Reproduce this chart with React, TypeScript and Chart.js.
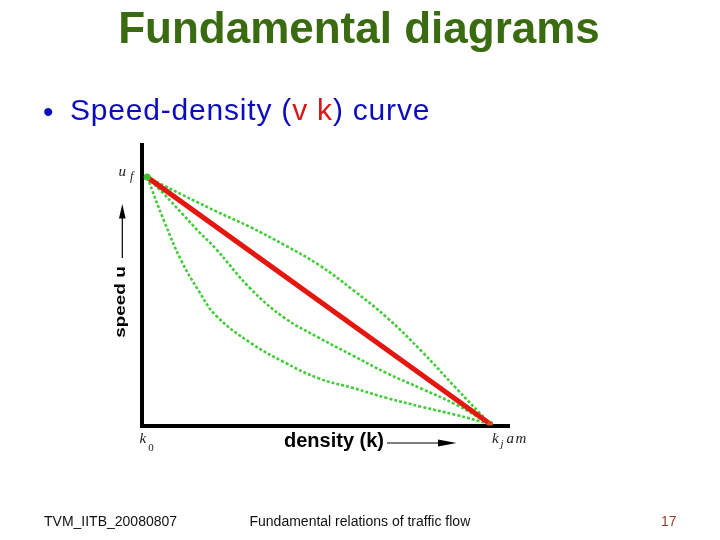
import React, { useEffect, useRef } from "react";
import { Chart, registerables } from "chart.js";

Chart.register(...registerables);

// ---- data (density k in % of k_jam, speed u in % of u_f) ----
const densityPoints = [0, 5, 10, 15, 20, 30, 40, 50, 60, 70, 80, 90, 100];
const upperCurve = [100, 96.5, 93, 89.6, 86.2, 79.8, 72.5, 64.5, 54.3, 43, 29.5, 14.6, 0];
const middleCurve = [100, 93, 85.5, 78, 71, 55, 43, 35, 27.7, 20.5, 14.3, 7.9, 0];
const lowerCurve = [100, 82, 66, 54, 44, 33, 25, 18.5, 14.6, 10.5, 7, 3.7, 0];
const linearDensity = [0, 100];
const linearSpeed = [100, 0];
const xAxisRange = [-1.5, 105.5];
const yAxisRange = [-0.6, 113];

const titleText = "Fundamental diagrams";
const footerLeft = "TVM_IITB_20080807";
const footerCenter = "Fundamental relations of traffic flow";
const footerPage = "17";

const SANS = '"Liberation Sans", Arial, Helvetica, sans-serif';
const SERIF = '"Liberation Serif", "Times New Roman", serif';

const GREEN = "#45cc3c";
const RED = "#e3170f";

function pairs(xs: number[], ys: number[]) {
  return xs.map((x, i) => ({ x, y: ys[i] }));
}

const arrowPlugin = {
  id: "axisArrows",
  afterDraw(chart: any) {
    const ctx = chart.ctx as CanvasRenderingContext2D;
    ctx.save();
    ctx.strokeStyle = "#000";
    ctx.fillStyle = "#000";
    ctx.lineWidth = 1.2;
    // speed arrow (vertical)
    ctx.beginPath();
    ctx.moveTo(122.3, 258);
    ctx.lineTo(122.3, 216);
    ctx.stroke();
    ctx.beginPath();
    ctx.moveTo(122.3, 204);
    ctx.lineTo(125.6, 218.5);
    ctx.lineTo(119, 218.5);
    ctx.closePath();
    ctx.fill();
    // density arrow (horizontal)
    ctx.beginPath();
    ctx.moveTo(387, 443);
    ctx.lineTo(440, 443);
    ctx.stroke();
    ctx.beginPath();
    ctx.moveTo(456.5, 443);
    ctx.lineTo(438, 439.6);
    ctx.lineTo(438, 446.4);
    ctx.closePath();
    ctx.fill();
    ctx.restore();
  },
};

function Txt(props: {
  x: number;
  baseline: number;
  size: number;
  serif?: boolean;
  style?: React.CSSProperties;
  children: React.ReactNode;
}) {
  const serif = props.serif;
  const a = serif ? 0.891 : 0.905;
  const d = serif ? 0.216 : 0.212;
  const top = props.baseline - ((a - d) / 2) * props.size;
  return (
    <div
      style={{
        position: "absolute",
        left: props.x,
        top,
        fontSize: props.size,
        lineHeight: 0,
        fontFamily: serif ? SERIF : SANS,
        whiteSpace: "nowrap",
        ...props.style,
      }}
    >
      {props.children}
    </div>
  );
}

export default function App() {
  const canvasRef = useRef<HTMLCanvasElement | null>(null);

  useEffect(() => {
    if (!canvasRef.current) return;
    const greenStyle = {
      borderColor: GREEN,
      borderWidth: 2.6,
      borderDash: [3, 2],
      pointRadius: 0,
      fill: false,
      tension: 0.4,
      order: 1,
    };
    const axisStyle = {
      type: "linear" as const,
      grid: { display: false, drawTicks: false, tickLength: 0 },
      ticks: { display: false, padding: 0 },
      border: { display: true, width: 4, color: "#000" },
    };
    const chart = new Chart(canvasRef.current, {
      type: "line",
      data: {
        datasets: [
          {
            label: "linear",
            data: pairs(linearDensity, linearSpeed),
            borderColor: RED,
            borderWidth: 5,
            pointRadius: [3.5, 3],
            pointBackgroundColor: ["#3fbf2f", "#c8501c"],
            pointBorderWidth: 0,
            fill: false,
            order: 0,
          },
          { label: "upper", data: pairs(densityPoints, upperCurve), ...greenStyle },
          { label: "middle", data: pairs(densityPoints, middleCurve), ...greenStyle },
          { label: "lower", data: pairs(densityPoints, lowerCurve), ...greenStyle },
        ],
      },
      options: {
        responsive: false,
        animation: false,
        layout: { padding: { left: 142, top: 145, right: 211, bottom: 114.5 } },
        plugins: {
          legend: { display: false },
          tooltip: { enabled: false },
          title: { display: false },
        },
        scales: {
          x: { ...axisStyle, min: xAxisRange[0], max: xAxisRange[1] },
          y: { ...axisStyle, min: yAxisRange[0], max: yAxisRange[1] },
        },
      },
      plugins: [arrowPlugin],
    });
    return () => chart.destroy();
  }, []);

  return (
    <div
      style={{
        position: "absolute",
        left: 0,
        top: 0,
        width: 720,
        height: 540,
        background: "#fff",
        overflow: "hidden",
      }}
    >
      <canvas
        ref={canvasRef}
        width={720}
        height={540}
        style={{ position: "absolute", left: 0, top: 0, width: 720, height: 540 }}
      />

      {/* title */}
      <Txt x={-1} baseline={43.5} size={44} style={{ width: 720, textAlign: "center", fontWeight: "bold", color: "#3b6b11" }}>
        {titleText}
      </Txt>

      {/* bullet line */}
      <Txt x={43} baseline={122} size={30} style={{ color: "#0c0cbf" }}>
        {"\u2022"}
      </Txt>
      <Txt x={70} baseline={120.5} size={30} style={{ color: "#0c0cbf", letterSpacing: 0.8 }}>
        Speed-density (<span style={{ color: "#d81818" }}>v</span> <span style={{ color: "#d81818" }}>k</span>) curve
      </Txt>

      {/* axis labels */}
      <div
        style={{
          position: "absolute",
          left: 119.7 - 50,
          top: 301.7 - 10,
          width: 100,
          height: 20,
          lineHeight: "20px",
          fontSize: 14,
          fontWeight: "bold",
          fontFamily: SANS,
          textAlign: "center",
          color: "#000",
          whiteSpace: "nowrap",
          transform: "rotate(-90deg) scaleX(1.35)",
        }}
      >
        speed u
      </div>
      <Txt x={284} baseline={446.7} size={20} style={{ fontWeight: "bold", color: "#000" }}>
        density (k)
      </Txt>

      {/* math labels */}
      <Txt x={118.5} baseline={176} size={15} serif style={{ fontStyle: "italic", color: "#222" }}>
        u
      </Txt>
      <Txt x={130} baseline={180.5} size={12} serif style={{ fontStyle: "italic", color: "#222" }}>
        f
      </Txt>
      <Txt x={139.5} baseline={443.3} size={15} serif style={{ fontStyle: "italic", color: "#222" }}>
        k
      </Txt>
      <Txt x={148.3} baseline={451} size={11} serif style={{ color: "#222" }}>
        0
      </Txt>
      <Txt x={492} baseline={443.3} size={15} serif style={{ fontStyle: "italic", color: "#222" }}>
        k
      </Txt>
      <Txt x={500.5} baseline={447} size={11} serif style={{ fontStyle: "italic", color: "#222" }}>
        j
      </Txt>
      <Txt x={506.5} baseline={443.3} size={15} serif style={{ fontStyle: "italic", color: "#222", letterSpacing: 1.5 }}>
        am
      </Txt>

      {/* footer */}
      <Txt x={44} baseline={525.5} size={14} style={{ color: "#111" }}>
        {footerLeft}
      </Txt>
      <Txt x={249.5} baseline={525.5} size={14} style={{ color: "#111" }}>
        {footerCenter}
      </Txt>
      <Txt x={661} baseline={525.5} size={14} style={{ color: "#9a3c28" }}>
        {footerPage}
      </Txt>
    </div>
  );
}
